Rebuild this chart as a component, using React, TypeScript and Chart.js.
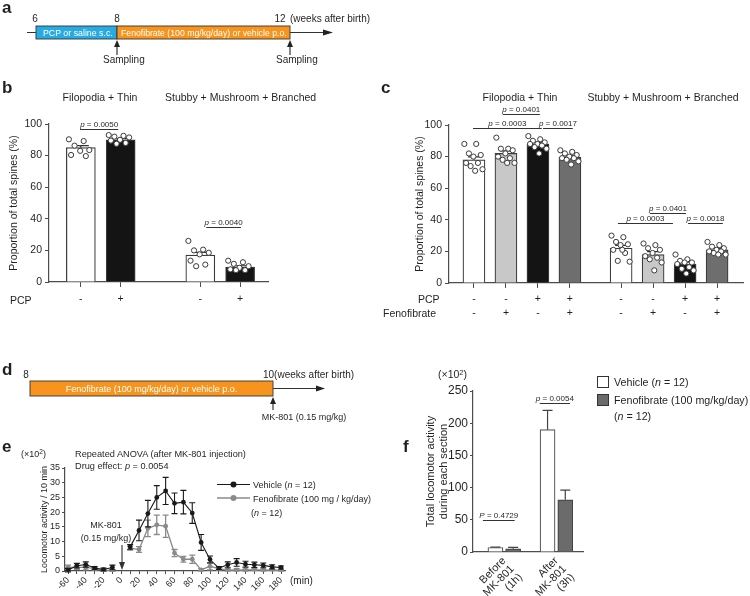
import React, { useEffect, useRef } from 'react';
import { Chart, registerables } from 'chart.js';

Chart.register(...registerables);

const FONT = "'Liberation Sans', Arial, Helvetica, sans-serif";
const TXT = '#231f20';
const AX = '#4d4d4d';
Chart.defaults.font.family = FONT;
Chart.defaults.color = TXT;

// ================= Panel b =================
const bPcp = ['-', '+', '-', '+'];
const bGroup = [0, 0, 1, 1];
const bMean = [85, 90, 17, 9.5];
const bSem = [1.3, 0.8, 1.8, 0.8];
const bDots = [
  [90.3, 89.2, 86.3, 83.5, 83, 80.4, 79.7],
  [93, 92.5, 92, 91.5, 90, 89.5, 88, 87.5],
  [26, 20.5, 20, 18.5, 17.5, 13.5, 11, 10],
  [13.5, 12.5, 11.5, 10, 9, 8, 7.5, 7.5],
];
const bFill = ['#ffffff', '#141414', '#ffffff', '#141414'];
const bSig = [
  { from: -0.02, to: 0.94, at: 96.8, text: 'p = 0.0050' },
  { from: 3.15, to: 4.02, at: 34.8, text: 'p = 0.0040' },
];

// ================= Panel c =================
const cPcp = ['-', '-', '+', '+', '-', '-', '+', '+'];
const cFeno = ['-', '+', '-', '+', '-', '+', '-', '+'];
const cGroup = [0, 0, 0, 0, 1, 1, 1, 1];
const cMean = [78, 82, 88, 79.5, 22, 18, 12, 21];
const cSem = [1.8, 1.6, 1.1, 0.9, 1.8, 1.8, 1.2, 0.9];
const cDots = [
  [88, 88, 82, 81, 80, 76, 76, 74, 72, 71],
  [92, 85, 85, 84, 82, 80, 79, 78, 76, 76],
  [93, 91, 90, 89, 88, 88, 87, 86, 85, 82],
  [84, 83, 82, 81, 80, 79, 79, 78, 77, 75],
  [30, 29, 26, 24.5, 24, 21, 19, 14, 13.5, 21],
  [25, 24, 22, 21, 19, 17, 16, 15, 13, 8],
  [18, 15, 14, 13, 13, 12, 10, 9, 8, 6],
  [26, 24, 23, 22, 21, 20, 20, 19, 18, 18],
];
const cFill = ['#ffffff', '#c8c8c8', '#141414', '#6e6e6e', '#ffffff', '#c8c8c8', '#141414', '#6e6e6e'];
const cSig = [
  { from: 0.9, to: 2.06, at: 107, text: 'p = 0.0401' },
  { from: -0.03, to: 2.12, at: 98, text: 'p = 0.0003' },
  { from: 2.16, to: 3.09, at: 98, text: 'p = 0.0017' },
  { from: 5.5, to: 6.63, at: 44.2, text: 'p = 0.0401' },
  { from: 4.5, to: 6.22, at: 37.8, text: 'p = 0.0003' },
  { from: 6.69, to: 7.78, at: 37.8, text: 'p = 0.0018' },
];

// ================= Panel e =================
const eTime = [-60, -50, -40, -30, -20, -10, 0, 10, 20, 30, 40, 50, 60, 70, 80, 90, 100, 110, 120, 130, 140, 150, 160, 170, 180];
const eVehicle = [0.3, 1.8, 2.2, 1.0, 0.5, 1.2, null, 8.2, 13.8, 19.5, 25, 27.2, 23, 23.4, 19.7, 9.7, 3.9, 1.0, 2.1, 2.9, 2.3, 2.1, 1.9, 1.4, 1.2];
const eVehicleSem = [0.6, 0.8, 0.9, 0.5, 0.5, 0.8, null, 0.8, 3.5, 4.5, 4, 4.6, 3.5, 4, 3.5, 2.7, 1.2, 0.5, 1, 1.3, 1, 0.9, 0.8, 0.7, 0.5];
const eFeno = [1.3, 1.2, 1.2, 0.8, 0.3, 0.2, null, 7.8, 7.3, 14.5, 15.7, 15.2, 6.1, 4.0, 4.0, 0.4, 1.6, 0.8, 0.3, 0.4, 0.3, 0.5, 0.3, 0.4, 0.2];
const eFenoSem = [0.7, 0.6, 0.8, 0.5, 0.3, 0.3, null, 0.7, 1, 2.8, 3.3, 3.8, 1.2, 1, 1.4, 0.4, 1.2, 0.5, 0.3, 0.4, 0.3, 0.4, 0.3, 0.3, 0.2];
const eTicks = [-60, -50, -40, -30, -20, -10, 0, 10, 20, 30, 40, 50, 60, 70, 80, 90, 100, 110, 120, 130, 140, 150, 160, 170, 180];

// ================= Panel f =================
const fGroups = [['Before', 'MK-801', '(1h)'], ['After', 'MK-801', '(3h)']];
const fVehicle = [7, 190];
const fVehicleSem = [0.6, 30];
const fFeno = [5, 81];
const fFenoSem = [2.3, 15];
const fSig = [
  { from: -0.41, to: 0.2, at: 49.7, text: 'P = 0.4729' },
  { from: 0.68, to: 1.26, at: 231, text: 'p = 0.0054' },
];

// ================= helpers =================
const jitter = (j: number) => ((j * 0.618034) % 1) - 0.5;

const errorBarPlugin = {
  id: 'errbars',
  afterDatasetDraw(chart: any, args: any) {
    const ds: any = chart.data.datasets[args.index];
    if (!ds.errors) return;
    const meta = args.meta;
    const ys = chart.scales[meta.yAxisID];
    const ctx = chart.ctx;
    ctx.save();
    ctx.strokeStyle = ds.errorColor || '#333';
    ctx.lineWidth = ds.errorWidth || 1;
    meta.data.forEach((el: any, i: number) => {
      const raw = ds.data[i];
      const v = raw && raw.y;
      const e = ds.errors[i];
      if (v == null || e == null) return;
      const x = el.x;
      const top = ys.getPixelForValue(v + e);
      const bot = ds.errorMode === 'up' ? ys.getPixelForValue(v) : ys.getPixelForValue(v - e);
      const cw = (ds.capWidth || 6) / 2;
      ctx.beginPath();
      ctx.moveTo(x, top);
      ctx.lineTo(x, bot);
      ctx.moveTo(x - cw, top);
      ctx.lineTo(x + cw, top);
      if (ds.errorMode !== 'up') {
        ctx.moveTo(x - cw, bot);
        ctx.lineTo(x + cw, bot);
      }
      ctx.stroke();
    });
    ctx.restore();
  },
};

function sigPlugin(items: any[], fs: number) {
  return {
    id: 'sig',
    afterDraw(chart: any) {
      const xs = chart.scales.x;
      const ys = chart.scales.y;
      const ctx = chart.ctx;
      ctx.save();
      items.forEach((it) => {
        const x1 = xs.getPixelForValue(it.from);
        const x2 = xs.getPixelForValue(it.to);
        const y = Math.round(ys.getPixelForValue(it.at)) + 0.5;
        ctx.strokeStyle = '#333';
        ctx.lineWidth = 1;
        ctx.beginPath();
        ctx.moveTo(x1, y);
        ctx.lineTo(x2, y);
        ctx.stroke();
        const first = it.text[0];
        const rest = it.text.slice(1);
        ctx.font = `italic ${fs}px ${FONT}`;
        const w1 = ctx.measureText(first).width;
        ctx.font = `${fs}px ${FONT}`;
        const w2 = ctx.measureText(rest).width;
        const sx = (x1 + x2) / 2 - (w1 + w2) / 2;
        ctx.fillStyle = TXT;
        ctx.textAlign = 'left';
        ctx.textBaseline = 'alphabetic';
        ctx.font = `italic ${fs}px ${FONT}`;
        ctx.fillText(first, sx, y - 2.5);
        ctx.font = `${fs}px ${FONT}`;
        ctx.fillText(rest, sx + w1, y - 2.5);
      });
      ctx.restore();
    },
  };
}

function base(pad: any) {
  return {
    animation: false,
    responsive: false,
    devicePixelRatio: 1,
    events: [],
    layout: { padding: pad },
    plugins: { legend: { display: false }, tooltip: { enabled: false }, title: { display: false } },
  };
}

function yAxis(min: number, max: number, step: number, fs: number, width: number, title: any, tl = 4, pad = 3) {
  return {
    type: 'linear',
    min,
    max,
    stacked: false,
    afterFit: (s: any) => { s.width = width; },
    afterBuildTicks: (s: any) => {
      const t: any[] = [];
      for (let v = min; v <= max + 1e-9; v += step) t.push({ value: v });
      s.ticks = t;
    },
    ticks: { font: { size: fs, family: FONT }, color: TXT, padding: pad, autoSkip: false },
    grid: { drawOnChartArea: false, drawTicks: true, tickLength: tl, color: AX, lineWidth: 1, offset: false },
    border: { display: true, color: AX, width: 1.2 },
    title,
  };
}

function xAxis(min: number, max: number, vals: number[], labelFn: (i: number) => any, height: number, fs: number, extra: any = {}) {
  return {
    type: 'linear',
    min,
    max,
    offset: false,
    afterFit: (s: any) => { s.height = height; },
    afterBuildTicks: (s: any) => { s.ticks = vals.map((v) => ({ value: v })); },
    ticks: {
      font: { size: fs, family: FONT, lineHeight: extra.lineHeight || 1.2 },
      color: TXT,
      padding: extra.padding ?? 4,
      autoSkip: false,
      maxRotation: extra.rotation || 0,
      minRotation: extra.rotation || 0,
      callback: (_v: any, i: number) => labelFn(i),
    },
    grid: {
      drawOnChartArea: false,
      drawTicks: extra.drawTicks ?? true,
      tickLength: extra.tickLength ?? 5,
      color: AX,
      lineWidth: 1,
      offset: false,
    },
    border: { display: true, color: AX, width: 1.2 },
  };
}

// ================= chart factories =================
function makeB() {
  const pos = bMean.map((_, i) => i + bGroup[i]);
  const dots: any[] = [];
  bDots.forEach((arr, i) => arr.forEach((v, j) => dots.push({ x: pos[i] + jitter(j) * 0.6, y: v })));
  return {
    type: 'bar',
    data: {
      datasets: [
        { type: 'scatter', data: dots, order: 1, pointRadius: 2.6, pointBackgroundColor: '#fff', pointBorderColor: '#3a3a3a', pointBorderWidth: 1 },
        {
          type: 'bar', order: 2, data: bMean.map((v, i) => ({ x: pos[i], y: v })),
          backgroundColor: bFill, borderColor: '#3a3a3a', borderWidth: 1.2, barThickness: 29,
          errors: bSem, errorMode: 'up', capWidth: 16, errorColor: '#333', errorWidth: 1.2,
        },
      ],
    },
    options: {
      ...base({ left: 4, top: 124, right: 482, bottom: 289 }),
      scales: {
        x: xAxis(-0.8, 4.7, pos, (i) => bPcp[i], 25, 10.5, { padding: 6 }),
        y: yAxis(0, 100, 20, 10.5, 45, { display: true, text: 'Proportion of total spines (%)', font: { size: 10.5, family: FONT }, color: TXT, padding: { top: 4, bottom: 4 } }),
      },
    },
    plugins: [errorBarPlugin, sigPlugin(bSig, 8)],
  };
}

function makeC() {
  const pos = cMean.map((_, i) => i + cGroup[i] * 0.6);
  const dots: any[] = [];
  cDots.forEach((arr, i) => arr.forEach((v, j) => dots.push({ x: pos[i] + jitter(j) * 0.6, y: v })));
  return {
    type: 'bar',
    data: {
      datasets: [
        { type: 'scatter', data: dots, order: 1, pointRadius: 2.6, pointBackgroundColor: '#fff', pointBorderColor: '#3a3a3a', pointBorderWidth: 1 },
        {
          type: 'bar', order: 2, data: cMean.map((v, i) => ({ x: pos[i], y: v })),
          backgroundColor: cFill, borderColor: '#3a3a3a', borderWidth: 1.2, barThickness: 22,
          errors: cSem, errorMode: 'up', capWidth: 12, errorColor: '#333', errorWidth: 1.2,
        },
      ],
    },
    options: {
      ...base({ left: 410, top: 125, right: 7, bottom: 278 }),
      scales: {
        x: xAxis(-0.78, 8.41, pos, (i) => [cPcp[i], cFeno[i]], 35, 10.5, { padding: 4, lineHeight: 1.333 }),
        y: yAxis(0, 100, 20, 10.5, 39, { display: true, text: 'Proportion of total spines (%)', font: { size: 10.5, family: FONT }, color: TXT, padding: { top: 4, bottom: 4 } }),
      },
    },
    plugins: [errorBarPlugin, sigPlugin(cSig, 8)],
  };
}

function makeE() {
  const veh = eTime.map((t, i) => ({ x: t, y: eVehicle[i] }));
  const fen = eTime.map((t, i) => ({ x: t, y: eFeno[i] }));
  return {
    type: 'line',
    data: {
      datasets: [
        {
          data: veh, borderColor: '#1a1a1a', backgroundColor: '#1a1a1a', borderWidth: 1.1, pointRadius: 2.4,
          pointBackgroundColor: '#1a1a1a', pointBorderWidth: 0, spanGaps: false, tension: 0,
          errors: eVehicleSem, errorMode: 'both', capWidth: 6, errorColor: '#1a1a1a', errorWidth: 1.1,
        },
        {
          data: fen, borderColor: '#8a8a8a', backgroundColor: '#8a8a8a', borderWidth: 1.3, pointRadius: 2.4,
          pointBackgroundColor: '#8a8a8a', pointBorderWidth: 0, spanGaps: false, tension: 0,
          errors: eFenoSem, errorMode: 'both', capWidth: 6, errorColor: '#8a8a8a', errorWidth: 1.3,
        },
      ],
    },
    options: {
      ...base({ left: 35, top: 468, right: 465, bottom: 0 }),
      scales: {
        x: xAxis(-63.4, 184.5, eTicks, (i) => (eTicks[i] % 20 === 0 ? String(eTicks[i]) : ''), 25, 9, { rotation: 45, padding: 1, tickLength: 3 }),
        y: yAxis(0, 35, 5, 9, 30, { display: true, text: 'Locomotor activity / 10 min', font: { size: 9, family: FONT }, color: TXT, padding: { top: 4, bottom: 4 } }, 3, 2),
      },
    },
    plugins: [errorBarPlugin],
  };
}

function makeF() {
  const g = fGroups.map((_, i) => i);
  return {
    type: 'bar',
    data: {
      datasets: [
        {
          data: fVehicle.map((v, i) => ({ x: g[i] - 0.17, y: v })), stack: 's',
          backgroundColor: '#ffffff', borderColor: '#555', borderWidth: 1.2, barThickness: 15,
          errors: fVehicleSem, errorMode: 'up', capWidth: 10, errorColor: '#444', errorWidth: 1.2,
        },
        {
          data: fFeno.map((v, i) => ({ x: g[i] + 0.17, y: v })), stack: 's',
          backgroundColor: '#6b6b6b', borderColor: '#444', borderWidth: 1.2, barThickness: 15,
          errors: fFenoSem, errorMode: 'up', capWidth: 10, errorColor: '#444', errorWidth: 1.2,
        },
      ],
    },
    options: {
      ...base({ left: 420, top: 391, right: 167, bottom: 0 }),
      scales: {
        x: xAxis(-0.6, 1.51, g, (i) => fGroups[i], 44, 11, { rotation: 45, padding: 3, drawTicks: false, tickLength: 0, lineHeight: 1.05 }),
        y: yAxis(0, 250, 50, 12, 53, { display: true, text: ['Total locomotor activity', 'during each section'], font: { size: 11, family: FONT }, color: TXT, padding: { top: 4, bottom: 4 } }, 3, 2),
      },
    },
    plugins: [errorBarPlugin, sigPlugin(fSig, 8)],
  };
}

function Layer({ make }: { make: () => any }) {
  const ref = useRef<HTMLCanvasElement>(null);
  useEffect(() => {
    const chart = new Chart(ref.current as HTMLCanvasElement, make());
    return () => chart.destroy();
  }, []);
  return (
    <canvas
      ref={ref}
      width={750}
      height={596}
      style={{ position: 'absolute', left: 0, top: 0, width: 750, height: 596, pointerEvents: 'none' }}
    />
  );
}

function UpArrow({ x, tip, end }: { x: number; tip: number; end: number }) {
  return (
    <g>
      <line x1={x} y1={tip + 5} x2={x} y2={end} stroke="#222" strokeWidth={1.1} />
      <polygon points={`${x},${tip} ${x - 3},${tip + 7} ${x + 3},${tip + 7}`} fill="#222" />
    </g>
  );
}

function Overlay() {
  const L = { fontSize: 17, fontWeight: 'bold' as const };
  return (
    <svg width={750} height={596} style={{ position: 'absolute', left: 0, top: 0, pointerEvents: 'none' }} fontFamily={FONT} fill={TXT}>
      {/* panel letters */}
      <text x={2} y={13} {...L}>a</text>
      <text x={2} y={93} {...L}>b</text>
      <text x={381} y={93} {...L}>c</text>
      <text x={2} y={375} {...L}>d</text>
      <text x={2} y={452} {...L}>e</text>
      <text x={403} y={452} {...L}>f</text>

      {/* ---- panel a diagram ---- */}
      <line x1={27} y1={32.5} x2={326} y2={32.5} stroke="#333" strokeWidth={1.1} />
      <polygon points="333,32.5 323,29.5 323,35.5" fill="#222" />
      <rect x={36} y={26} width={81} height={13} fill="#29abe2" stroke="#333" strokeWidth={0.9} />
      <rect x={117} y={26} width={173} height={13} fill="#f7941d" stroke="#333" strokeWidth={0.9} />
      <text x={43} y={35.6} fontSize={8.8} fill="#fff">PCP or saline s.c.</text>
      <text x={121} y={35.6} fontSize={8.7} fill="#fff">Fenofibrate (100 mg/kg/day) or vehicle p.o.</text>
      <text x={35} y={22} fontSize={10} textAnchor="middle">6</text>
      <text x={117} y={22} fontSize={10} textAnchor="middle">8</text>
      <text x={280} y={22} fontSize={10} textAnchor="middle">12</text>
      <text x={290} y={22} fontSize={10}>(weeks after birth)</text>
      <UpArrow x={117} tip={40} end={55} />
      <UpArrow x={290} tip={40} end={55} />
      <text x={103} y={63} fontSize={10}>Sampling</text>
      <text x={276} y={63} fontSize={10}>Sampling</text>

      {/* ---- panel b text ---- */}
      <text x={100} y={101} fontSize={10.5} textAnchor="middle">Filopodia + Thin</text>
      <text x={165} y={101} fontSize={10.5}>Stubby + Mushroom + Branched</text>
      <text x={10} y={304} fontSize={10.5}>PCP</text>

      {/* ---- panel c text ---- */}
      <text x={520} y={101} fontSize={10.5} textAnchor="middle">Filopodia + Thin</text>
      <text x={663} y={101} fontSize={10.5} textAnchor="middle">Stubby + Mushroom + Branched</text>
      <text x={418} y={303} fontSize={10.5}>PCP</text>
      <text x={383} y={317} fontSize={10.5}>Fenofibrate</text>

      {/* ---- panel d diagram ---- */}
      <text x={26} y={378} fontSize={10} textAnchor="middle">8</text>
      <rect x={30} y={381} width={243} height={15} fill="#f7941d" stroke="#333" strokeWidth={0.9} />
      <text x={151.5} y={391.7} fontSize={9} fill="#fff" textAnchor="middle">Fenofibrate (100 mg/kg/day) or vehicle p.o.</text>
      <text x={263} y={378} fontSize={10}>10(weeks after birth)</text>
      <line x1={273} y1={388.5} x2={318} y2={388.5} stroke="#333" strokeWidth={1.1} />
      <polygon points="325,388.5 316,385.5 316,391.5" fill="#222" />
      <UpArrow x={273} tip={397} end={410} />
      <text x={304} y={420} fontSize={9} textAnchor="middle">MK-801 (0.15 mg/kg)</text>

      {/* ---- panel e text ---- */}
      <text x={21} y={457} fontSize={9}>(×10<tspan dy={-3} fontSize={6.5}>2</tspan><tspan dy={3}>)</tspan></text>
      <text x={75} y={457} fontSize={9.2}>Repeated ANOVA (after MK-801 injection)</text>
      <text x={75} y={469} fontSize={9.2}>Drug effect: <tspan fontStyle="italic">p</tspan> = 0.0054</text>
      <line x1={217} y1={484.5} x2={250} y2={484.5} stroke="#1a1a1a" strokeWidth={1.2} />
      <circle cx={233.5} cy={484.5} r={3} fill="#1a1a1a" />
      <text x={253} y={488} fontSize={9}>Vehicle (<tspan fontStyle="italic">n</tspan> = 12)</text>
      <line x1={217} y1={498} x2={250} y2={498} stroke="#8a8a8a" strokeWidth={1.3} />
      <circle cx={233.5} cy={498} r={3} fill="#8a8a8a" />
      <text x={253} y={501.5} fontSize={9}>Fenofibrate (100 mg / kg/day)</text>
      <text x={251} y={516} fontSize={9}>(<tspan fontStyle="italic">n</tspan> = 12)</text>
      <text x={106} y={528} fontSize={9} textAnchor="middle">MK-801</text>
      <text x={106} y={541} fontSize={9} textAnchor="middle">(0.15 mg/kg)</text>
      <line x1={122} y1={545} x2={122} y2={563} stroke="#333" strokeWidth={1.1} />
      <polygon points="122,570 119,562 125,562" fill="#333" />
      <text x={290} y={584} fontSize={10}>(min)</text>

      {/* ---- panel f text ---- */}
      <text x={438} y={378} fontSize={10.5}>(×10<tspan dy={-3.5} fontSize={7.5}>2</tspan><tspan dy={3.5}>)</tspan></text>
      <rect x={597.5} y={376.5} width={11} height={11} fill="#fff" stroke="#333" strokeWidth={1} />
      <text x={614} y={386} fontSize={10.7}>Vehicle (<tspan fontStyle="italic">n</tspan> = 12)</text>
      <rect x={597.5} y={394.5} width={11} height={11} fill="#6b6b6b" stroke="#333" strokeWidth={1} />
      <text x={614} y={404} fontSize={10.7}>Fenofibrate (100 mg/kg/day)</text>
      <text x={614} y={420} fontSize={10.7}>(<tspan fontStyle="italic">n</tspan> = 12)</text>
    </svg>
  );
}

export default function App() {
  return (
    <div style={{ position: 'absolute', left: 0, top: 0, width: 750, height: 596, background: '#fff', overflow: 'hidden' }}>
      <Layer make={makeB} />
      <Layer make={makeC} />
      <Layer make={makeE} />
      <Layer make={makeF} />
      <Overlay />
    </div>
  );
}
